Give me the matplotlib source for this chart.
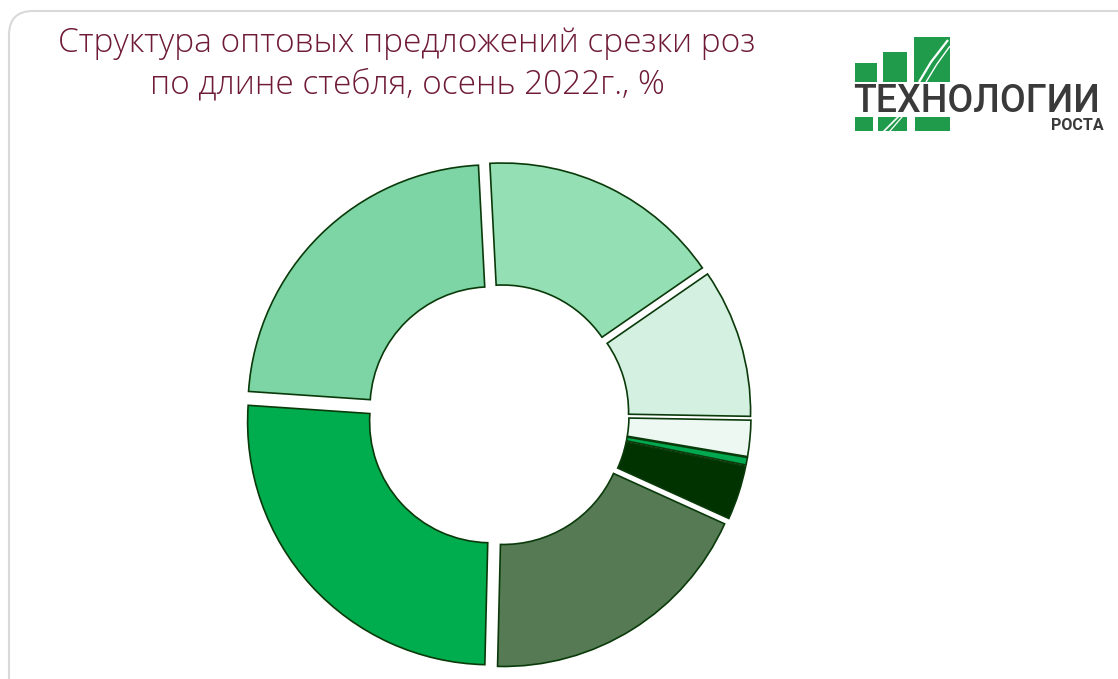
import matplotlib
matplotlib.use("Agg")
import matplotlib.pyplot as plt
from matplotlib.patches import Rectangle, FancyBboxPatch

W, H = 1118, 679

# stem-length groups (not shown on the chart), clockwise from lower right
categories = ["40 см", "50 см", "60 см", "70 см", "80 см", "90 см", "100 см", "прочие"]
shares = [18.6, 25.7, 23.1, 16.2, 9.9, 2.4, 0.5, 3.6]
colors = ["#557A54", "#00AD4E", "#7DD5A5", "#94DFB3",
          "#D4F0E0", "#EDF8F2", "#00A94F", "#003300"]

title = "Структура оптовых предложений срезки роз\nпо длине стебля, осень 2022г., %"

fig = plt.figure(figsize=(W / 100, H / 100), dpi=100)

# background / decoration in pixel coords (y down)
deco = fig.add_axes([0, 0, 1, 1])
deco.set_xlim(0, W)
deco.set_ylim(H, 0)
deco.axis("off")

frame = FancyBboxPatch((9, 11), 1140, 700, boxstyle="round,pad=0,rounding_size=24",
                       fc="white", ec="#D9D9D9", lw=1.5)
deco.add_patch(frame)

deco.text(407, 27, title, ha="center", va="top", fontsize=24, color="#6E1A38",
          family="Open Sans", fontweight="light", linespacing=1.3)

# logo
lg = "#1F9B4B"
for x0, y0, x1, y1 in [(855, 63, 877, 82), (883, 52, 907, 82), (914, 37, 950, 82),
                       (855, 117, 873, 131), (878, 117, 907, 131), (915, 117, 950, 131)]:
    deco.add_patch(Rectangle((x0, y0), x1 - x0, y1 - y0, fc=lg, ec="none"))
deco.plot([919, 931, 948], [82, 62, 40], color="white", lw=1.6, solid_capstyle="butt")
deco.plot([926, 937, 950], [82, 64, 46], color="white", lw=1.0, solid_capstyle="butt")
deco.plot([884, 892, 898], [131, 123, 117], color="white", lw=1.2)
deco.plot([890, 896, 902], [131, 124, 117], color="white", lw=0.9)
deco.text(853, 101, "ТЕХНОЛОГИИ", ha="left", va="center", fontsize=27,
          family="Roboto", fontweight="medium", color="#3A3A3A")
deco.text(1104, 125, "РОСТА", ha="right", va="center", fontsize=11.5, fontweight="bold",
          family="Roboto", color="#3A3A3A")

# doughnut in pixel coords (y up)
ax = fig.add_axes([0, 0, 1, 1])
ax.pie(shares, labels=None, colors=colors, center=(498, H - 415), radius=243,
       startangle=-24.4, counterclock=False, explode=[10] * len(shares),
       wedgeprops=dict(width=122, edgecolor="#0A3A0A", linewidth=1.2),
       frame=True)
ax.set_xlim(0, W)
ax.set_ylim(0, H)
ax.axis("off")

fig.savefig("out.png", dpi=100)
